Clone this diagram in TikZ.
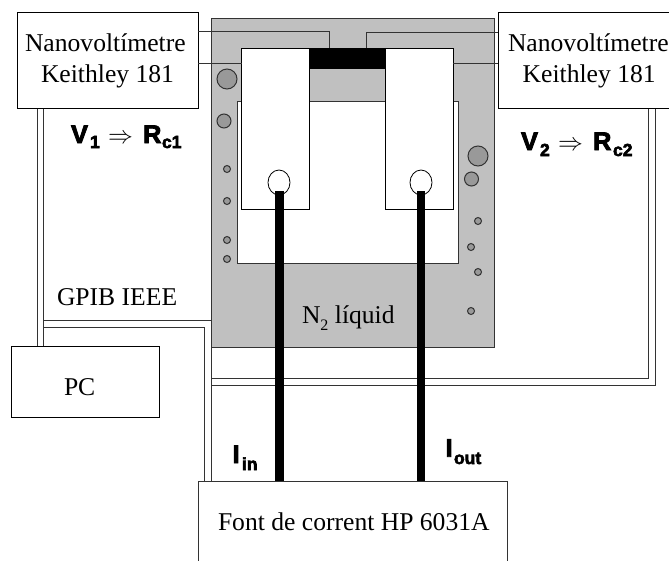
\documentclass[tikz,border=0pt]{standalone}
\usepackage{fontspec}
\setmainfont{Liberation Serif}
\newfontfamily\blk[FakeBold=3.2]{Liberation Sans Bold}
\usetikzlibrary{shapes.geometric}
\definecolor{tank}{HTML}{C0C0C0}
\definecolor{edge}{HTML}{333333}
\definecolor{hole}{HTML}{999999}
\newcommand{\rmtxt}{\fontsize{25.6}{30}\selectfont}
\newcommand{\bigb}{\blk\fontsize{25.5}{30}\selectfont}
\newcommand{\subb}{\blk\fontsize{17.5}{20}\selectfont}
\tikzset{
  x=1pt,y=-1pt,
  box/.style={draw=edge,fill=white,line width=1pt,rectangle,inner sep=0pt,outer sep=0pt,anchor=north west},
  txt/.style={anchor=base west,inner sep=0pt,outer sep=0pt,font=\rmtxt,text=black},
  bold/.style={anchor=base west,inner sep=0pt,outer sep=0pt,font=\bigb,text=black},
  subs/.style={anchor=base west,inner sep=0pt,outer sep=0pt,font=\subb,text=black},
  wire/.style={draw=edge,line width=1pt},
  bus/.style={draw=edge,line width=1pt},
  thickwire/.style={draw=black,line width=8.6pt},
  port/.style={draw=edge,fill=hole,circle,inner sep=0pt,line width=1pt},
  bulb/.style={draw=black,fill=white,ellipse,inner sep=0pt,minimum width=22pt,minimum height=25pt,line width=.8pt},
}
\begin{document}
\begin{tikzpicture}
\useasboundingbox (0,0) rectangle (669,560);
\clip (0,0) rectangle (669,560);
% cryostat
\node[box,fill=tank,minimum width=283pt,minimum height=329pt] (tank) at (211,18) {};
\node[box,minimum width=221pt,minimum height=162pt] (bath) at (237,101) {};
\node[box,draw=black,fill=black,minimum width=76pt,minimum height=20pt] (bar) at (309,48) {};
\node[box,draw=black,minimum width=68pt,minimum height=161pt] (sampleL) at (241.5,48) {};
\node[box,draw=black,minimum width=68pt,minimum height=161pt] (sampleR) at (385,48) {};
% ports
\foreach \n/\x/\y/\d in {a/227/79/20,b/224/121/14,c/227/169/7,d/227/201/7,e/227/240/7,f/227/259/7,
  g/478/156/20,h/471.5/179/14,i/478/221/7,j/471/247/7,k/478/272/7,l/471/311/7}
  \node[port,minimum size=\d pt] (port\n) at (\x,\y) {};
% instruments
\node[box,draw=black,minimum width=180.5pt,minimum height=96.5pt] (voltL) at (17.5,12) {};
\node[box,draw=black,minimum width=180.5pt,minimum height=96.5pt] (voltR) at (498,12) {};
\node[box,draw=black,minimum width=148.5pt,minimum height=71.5pt] (pc) at (11,346) {};
\node[box,minimum width=309pt,minimum height=82pt] (source) at (198,481) {};
% wire bends
\coordinate (tl) at (329,31);
\coordinate (tr) at (366,32);
\coordinate (ml) at (241.5,63);
\coordinate (mr) at (453,63);
\draw[wire] (voltL.east |- tl) -- (tl) -- (tl |- sampleL.north);
\draw[wire] (voltR.west |- tr) -- (tr) -- (tr |- sampleR.north);
\draw[wire] (voltL.east |- ml) -- (ml);
\draw[wire] (voltR.west |- mr) -- (mr);
% GPIB double lines
\coordinate (g1) at (37,320.5);
\coordinate (g2) at (43.5,327);
\coordinate (g3) at (204,327);
\coordinate (g4) at (211,320.5);
\coordinate (g5) at (211,385);
\coordinate (g6) at (211,378.7);
\coordinate (g7) at (648.7,378.7);
\coordinate (g8) at (655,385);
\draw[bus] (voltL.south -| g1) -- (pc.north -| g1);
\draw[bus] (voltL.south -| g2) -- (pc.north -| g2);
\draw[bus] (g2 |- g4) -- (g4) -- (source.north -| g4);
\draw[bus] (g2) -- (g3) -- (source.north -| g3);
\draw[bus] (g6) -- (g7) -- (voltR.south -| g7);
\draw[bus] (g5) -- (g8) -- (voltR.south -| g8);
% current leads
\node[bulb] (bulbL) at (279,182.5) {};
\node[bulb] (bulbR) at (421,182.5) {};
\coordinate (leadL) at (279.5,191);
\draw[thickwire] (leadL) -- (source.north -| leadL);
\draw[thickwire] ([yshift=4pt]bulbR.south) -- (source.north -| bulbR);
% texts
\node[txt] (t1) at (25,51.7) {Nanovoltímetre};
\node[txt] (t2) at (41,82.7) {Keithley 181};
\node[txt] (t3) at (508,51.7) {Nanovoltímetre};
\node[txt] (t4) at (522.7,82.7) {Keithley 181};
\node[txt] (t5) at (57,305) {GPIB IEEE};
\node[txt] (t6) at (64,395) {PC};
\node[txt] (t7) at (302,323) {N\raisebox{-7pt}{\fontsize{16}{18}\selectfont 2} líquid};
\node[txt] (t8) at (218,530) {Font de corrent HP 6031A};
% formula labels
\node[bold] (v1) at (71,143) {V};
\node[subs] (v1s) at (90,148) {1};
\node[anchor=base west,inner sep=0pt,font=\fontsize{25}{30}\selectfont] (a1) at (108,143) {$\Rightarrow$};
\node[bold] (r1) at (143,143) {R};
\node[subs] (r1s) at (162,148) {c1};
\node[bold] (v2) at (521,150) {V};
\node[subs] (v2s) at (540,156) {2};
\node[anchor=base west,inner sep=0pt,font=\fontsize{25}{30}\selectfont] (a2) at (558,150) {$\Rightarrow$};
\node[bold] (r2) at (593,150) {R};
\node[subs] (r2s) at (613,156) {c2};
\node[bold] (iin) at (232.5,463) {I};
\node[subs] (iins) at (242,470) {in};
\node[bold] (iout) at (445.5,456.7) {I};
\node[subs] (iouts) at (454,464) {out};
\end{tikzpicture}
\end{document}
